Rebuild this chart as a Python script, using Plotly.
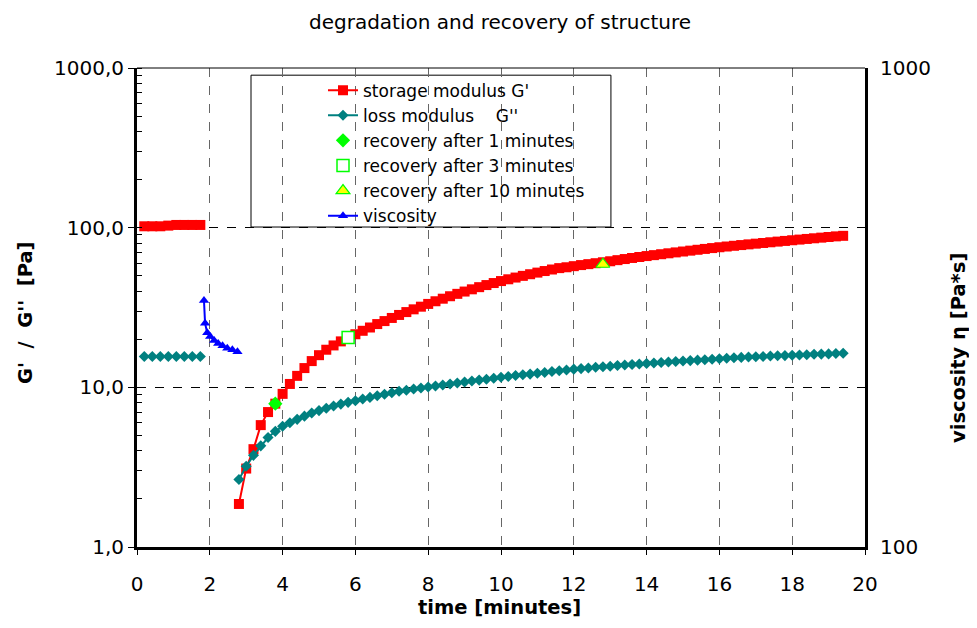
import plotly.graph_objects as go

# ---------------- data ----------------
t_initial = [0.2, 0.42, 0.64, 0.86, 1.08, 1.3, 1.52, 1.74]
storage_initial = [102, 102, 102, 103, 104, 104, 104, 104]
loss_initial = [15.6, 15.6, 15.6, 15.6, 15.6, 15.6, 15.6, 15.6]

t_recovery = [2.8, 3.0, 3.2, 3.4, 3.6, 3.8, 4.0, 4.2, 4.4, 4.6,
              4.8, 5.0, 5.2, 5.4, 5.6, 5.8, 6.0, 6.2, 6.4, 6.6,
              6.8, 7.0, 7.2, 7.4, 7.6, 7.8, 8.0, 8.2, 8.4, 8.6,
              8.8, 9.0, 9.2, 9.4, 9.6, 9.8, 10.0, 10.2, 10.4, 10.6,
              10.8, 11.0, 11.2, 11.4, 11.6, 11.8, 12.0, 12.2, 12.4, 12.6,
              12.8, 13.0, 13.2, 13.4, 13.6, 13.8, 14.0, 14.2, 14.4, 14.6,
              14.8, 15.0, 15.2, 15.4, 15.6, 15.8, 16.0, 16.2, 16.4, 16.6,
              16.8, 17.0, 17.2, 17.4, 17.6, 17.8, 18.0, 18.2, 18.4, 18.6,
              18.8, 19.0, 19.2, 19.4]
storage_recovery = [1.86, 3.1, 4.1, 5.8, 7.0, 7.9, 9.1, 10.5, 11.8, 13.2,
                    14.6, 15.9, 17.2, 18.3, 19.4, 20.5, 21.5, 22.6, 23.7, 24.9,
                    26.0, 27.2, 28.4, 29.6, 30.8, 32.0, 33.3, 34.6, 35.9, 37.2,
                    38.5, 39.8, 41.1, 42.4, 43.7, 45.0, 46.3, 47.5, 48.7, 49.9,
                    51.1, 52.3, 53.5, 54.7, 55.8, 56.5, 57.4, 58.3, 59.1, 59.9,
                    60.7, 61.6, 62.6, 63.6, 64.6, 65.5, 66.4, 67.3, 68.2, 69.1,
                    70.0, 70.9, 71.8, 72.7, 73.6, 74.5, 75.4, 76.2, 77.0, 77.8,
                    78.6, 79.4, 80.2, 81.0, 81.8, 82.6, 83.4, 84.2, 85.0, 85.8,
                    86.6, 87.4, 88.2, 88.9]
loss_recovery = [2.65, 3.2, 3.75, 4.3, 4.85, 5.3, 5.7, 6.0, 6.3, 6.6,
                 6.9, 7.15, 7.4, 7.65, 7.85, 8.05, 8.25, 8.45, 8.65, 8.85,
                 9.05, 9.25, 9.45, 9.6, 9.75, 9.9, 10.05, 10.2, 10.35, 10.5,
                 10.65, 10.8, 10.95, 11.1, 11.25, 11.4, 11.55, 11.7, 11.85, 12.0,
                 12.1, 12.25, 12.4, 12.55, 12.7, 12.85, 13.0, 13.1, 13.2, 13.35,
                 13.45, 13.55, 13.7, 13.8, 13.9, 14.0, 14.1, 14.2, 14.3, 14.4,
                 14.5, 14.6, 14.7, 14.8, 14.9, 15.0, 15.1, 15.2, 15.3, 15.4,
                 15.5, 15.55, 15.6, 15.7, 15.75, 15.8, 15.9, 15.95, 16.0, 16.1,
                 16.15, 16.2, 16.3, 16.35]

rec1_t, rec1_val = [3.8], [7.9]
rec3_t, rec3_val = [5.8], [20.5]
rec10_t, rec10_val = [12.8], [59.0]

t_visc = [1.84, 1.87, 1.93, 2.01, 2.12, 2.23, 2.35, 2.48, 2.62, 2.76]
viscosity = [327, 293, 280, 275, 270, 266, 263, 260, 258, 255.5]

left_tickvals = [1, 10, 100, 1000]
left_ticktext = ["1,0", "10,0", "100,0", "1000,0"]
right_tickvals = [100, 215.443, 464.159, 1000]
right_ticktext = ["100", "", "", "1000"]
x_tickvals = [0, 2, 4, 6, 8, 10, 12, 14, 16, 18, 20]

FONT = "DejaVu Sans"
W, H = 961, 612

fig = go.Figure()

fig.add_trace(go.Scatter(
    x=t_initial + [None] + t_recovery,
    y=storage_initial + [None] + storage_recovery,
    mode="lines+markers", name="storage modulus G'",
    line=dict(color="#FF0000", width=2),
    marker=dict(symbol="square", size=10, color="#FF0000"),
    connectgaps=False))

fig.add_trace(go.Scatter(
    x=t_initial + [None] + t_recovery,
    y=loss_initial + [None] + loss_recovery,
    mode="lines+markers", name="loss modulus\u00a0\u00a0\u00a0\u00a0G''",
    line=dict(color="#008080", width=2),
    marker=dict(symbol="diamond", size=8.5, color="#008080"),
    connectgaps=False))

fig.add_trace(go.Scatter(
    x=rec1_t, y=rec1_val, mode="markers", name="recovery after 1 minutes",
    marker=dict(symbol="diamond", size=11, color="#00FF00")))

fig.add_trace(go.Scatter(
    x=rec3_t, y=rec3_val, mode="markers", name="recovery after 3 minutes",
    marker=dict(symbol="square", size=12, color="white",
                line=dict(color="#00FF00", width=1.5))))

fig.add_trace(go.Scatter(
    x=rec10_t, y=rec10_val, mode="markers", name="recovery after 10 minutes",
    marker=dict(symbol="triangle-up", size=12, color="#FFFF00",
                line=dict(color="#00FF00", width=1.2))))

fig.add_trace(go.Scatter(
    x=t_visc, y=viscosity, yaxis="y2",
    mode="lines+markers", name="viscosity",
    line=dict(color="#0000FF", width=2),
    marker=dict(symbol="triangle-up", size=9, color="#0000FF")))

# legend frame
fig.add_shape(type="rect", xref="paper", yref="paper",
              x0=0.1566, x1=0.651, y0=0.668, y1=0.985,
              line=dict(color="black", width=1), fillcolor="white", layer="below")
# thin top border of plot area
fig.add_shape(type="line", xref="paper", yref="paper",
              x0=0, x1=1, y0=1, y1=1, line=dict(color="black", width=1))

title_font = dict(family=FONT, size=19.5, color="black")
fig.add_annotation(text="<b>time [minutes]</b>", xref="paper", yref="paper",
                   x=0.4986, y=-0.1273, xanchor="center", yanchor="middle",
                   showarrow=False, font=title_font)
fig.add_annotation(text="<b>G'\u00a0\u00a0/\u00a0\u00a0G''\u00a0\u00a0[Pa]</b>", xref="paper", yref="paper",
                   x=-0.1538, y=0.4885, xanchor="center", yanchor="middle",
                   textangle=-90, showarrow=False, font=title_font)
fig.add_annotation(text="<b>viscosity \u03b7 [Pa*s]</b>", xref="paper", yref="paper",
                   x=1.1277, y=0.4154, xanchor="center", yanchor="middle",
                   textangle=-90, showarrow=False, font=title_font)

fig.update_layout(
    width=W, height=H,
    margin=dict(l=129, r=104, t=60, b=73),
    paper_bgcolor="white", plot_bgcolor="white",
    font=dict(family=FONT, size=20, color="black"),
    title=dict(text="degradation and recovery of structure",
               x=492 / W, xanchor="center", y=1 - 14 / H, yanchor="middle",
               font=dict(family=FONT, size=20, color="black")),
    showlegend=True,
    legend=dict(x=0.2555, xanchor="left", y=0.9904, yanchor="top",
                bgcolor="rgba(0,0,0,0)", borderwidth=0,
                font=dict(family=FONT, size=17, color="black"),
                tracegroupgap=0, itemwidth=30),
    xaxis=dict(range=[0, 20], tickvals=x_tickvals,
               showline=True, linecolor="black", linewidth=3,
               ticks="outside", ticklen=5, tickwidth=1, tickcolor="black",
               ticklabelstandoff=12,
               showgrid=True, gridcolor="#666666", griddash="dash", gridwidth=1,
               zeroline=False, automargin=False),
    yaxis=dict(type="log", range=[0, 3], tickvals=left_tickvals, ticktext=left_ticktext,
               showline=True, linecolor="black", linewidth=3,
               ticks="outside", ticklen=6, tickwidth=1, tickcolor="black",
               showgrid=True, gridcolor="black", griddash="dash", gridwidth=1,
               minor=dict(ticks="inside", ticklen=5, tickcolor="black", dtick="D1",
                          showgrid=False),
               zeroline=False, automargin=False),
    yaxis2=dict(type="log", range=[2, 3], overlaying="y", side="right",
                tickvals=right_tickvals, ticktext=right_ticktext,
                showline=True, linecolor="black", linewidth=3,
                ticks="inside", ticklen=5, tickwidth=1, tickcolor="black",
                ticklabelstandoff=8,
                showgrid=False, zeroline=False, automargin=False),
)

fig.write_html("out.html")
